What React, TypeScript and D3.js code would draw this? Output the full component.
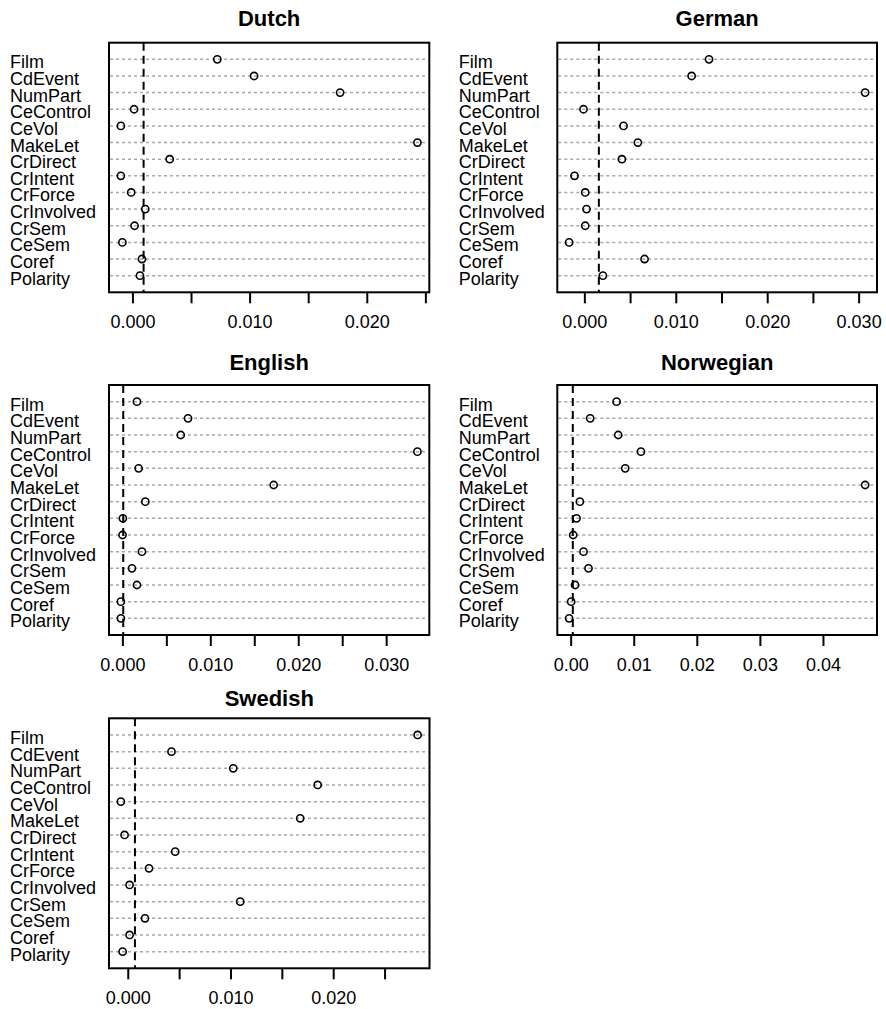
import React, { useEffect, useRef } from "react";
import * as d3 from "d3";

// row labels, top to bottom
const categories = [
  "Film", "CdEvent", "NumPart", "CeControl", "CeVol", "MakeLet", "CrDirect",
  "CrIntent", "CrForce", "CrInvolved", "CrSem", "CeSem", "Coref", "Polarity",
];

// values per language (same order as categories)
const dutch = [0.0072, 0.01034, 0.01768, 0.0001, -0.00103, 0.02428, 0.00314, -0.00103, -0.00015, 0.00105, 0.00014, -0.0009, 0.00077, 0.0006];
const german = [0.01358, 0.01168, 0.03066, -0.00015, 0.00423, 0.0058, 0.00405, -0.00113, 0.00004, 0.00018, 0.00004, -0.00172, 0.00653, 0.00197];
const english = [0.0016, 0.00741, 0.00658, 0.0335, 0.00179, 0.01715, 0.00255, 0.0, -0.00004, 0.00217, 0.00103, 0.0016, -0.00023, -0.00023];
const norwegian = [0.0072, 0.00302, 0.00746, 0.01106, 0.00857, 0.04661, 0.00138, 0.00085, 0.00032, 0.00196, 0.00275, 0.00063, 0.0, -0.00032];
const swedish = [0.02817, 0.00421, 0.01022, 0.01844, -0.00072, 0.01674, -0.00036, 0.00457, 0.00202, 0.00013, 0.0109, 0.00163, 0.00013, -0.00055];

// reference (dashed) line per language
const refLines = [0.00091, 0.00153, 0.00004, 0.00026, 0.00065];

const names = ["Dutch", "German", "English", "Norwegian", "Swedish"];
const series = [dutch, german, english, norwegian, swedish];
const tickSteps = [0.005, 0.005, 0.005, 0.01, 0.005];
const labelEvery = [2, 2, 2, 1, 2];
const tickFormats = [".3f", ".3f", ".3f", ".2f", ".3f"];

// panel boxes: left, top, right, bottom
const boxes = [
  [109, 42.7, 429.3, 292.3],
  [557.3, 42.7, 877, 292.3],
  [109, 385, 429.3, 635],
  [557.3, 385, 877, 635],
  [109, 718.3, 429.5, 968.3],
];
const labelXs = [10, 458.7, 10, 458.7, 10];
const titleYs = [26, 26, 370, 370, 706];

const FONT = "'Liberation Sans', Arial, sans-serif";

function App() {
  const ref = useRef<SVGSVGElement>(null);

  useEffect(() => {
    const svg = d3.select(ref.current);
    svg.selectAll("*").remove();
    const n = categories.length;

    series.forEach((vals, p) => {
      const [l, t, r, b] = boxes[p];
      const g = svg.append("g");

      // R dotchart style: data range padded by 4%
      const [mn, mx] = d3.extent(vals) as [number, number];
      const pad = (mx - mn) * 0.04;
      const x = d3.scaleLinear().domain([mn - pad, mx + pad]).range([l, r]);
      const y = d3.scaleLinear().domain([0, n + 1]).range([b, t]);

      // title
      g.append("text")
        .attr("x", (l + r) / 2)
        .attr("y", titleYs[p])
        .attr("text-anchor", "middle")
        .style("font-family", FONT)
        .style("font-size", "22px")
        .style("font-weight", "bold")
        .text(names[p]);

      // dotted row lines
      g.selectAll(".row")
        .data(categories)
        .join("line")
        .attr("x1", l + 1)
        .attr("x2", r - 1)
        .attr("y1", (d, i) => y(n - i))
        .attr("y2", (d, i) => y(n - i))
        .attr("stroke", "#a8a8a8")
        .attr("stroke-width", 1.5)
        .attr("stroke-dasharray", "3,3");

      // row labels
      g.selectAll(".lab")
        .data(categories)
        .join("text")
        .attr("x", labelXs[p])
        .attr("y", (d, i) => y(n - i) + 9)
        .style("font-family", FONT)
        .style("font-size", "18px")
        .text((d) => d);

      // dashed reference line
      g.append("line")
        .attr("x1", x(refLines[p]))
        .attr("x2", x(refLines[p]))
        .attr("y1", t)
        .attr("y2", b)
        .attr("stroke", "#000")
        .attr("stroke-width", 2)
        .attr("stroke-dasharray", "8,5");

      // points
      g.selectAll("circle")
        .data(vals)
        .join("circle")
        .attr("cx", (d) => x(d))
        .attr("cy", (d, i) => y(n - i))
        .attr("r", 3.6)
        .attr("fill", "none")
        .attr("stroke", "#000")
        .attr("stroke-width", 1.6);

      // box
      g.append("rect")
        .attr("x", l)
        .attr("y", t)
        .attr("width", r - l)
        .attr("height", b - t)
        .attr("fill", "none")
        .attr("stroke", "#000")
        .attr("stroke-width", 2);

      // x axis ticks
      const step = tickSteps[p];
      const ticks = d3.range(0, x.domain()[1] + 1e-9, step);
      const fmt = d3.format(tickFormats[p]);
      g.selectAll(".tick")
        .data(ticks)
        .join("line")
        .attr("x1", (d) => x(d))
        .attr("x2", (d) => x(d))
        .attr("y1", b)
        .attr("y2", b + 11)
        .attr("stroke", "#000")
        .attr("stroke-width", 2);
      g.selectAll(".ticklab")
        .data(ticks.filter((d, i) => i % labelEvery[p] === 0))
        .join("text")
        .attr("x", (d) => x(d))
        .attr("y", b + 36)
        .attr("text-anchor", "middle")
        .style("font-family", FONT)
        .style("font-size", "18px")
        .text((d) => fmt(d));
    });
  }, []);

  return (
    <svg
      ref={ref}
      width={886}
      height={1009}
      style={{ position: "absolute", left: 0, top: 0, background: "#fff" }}
    />
  );
}

export default App;
